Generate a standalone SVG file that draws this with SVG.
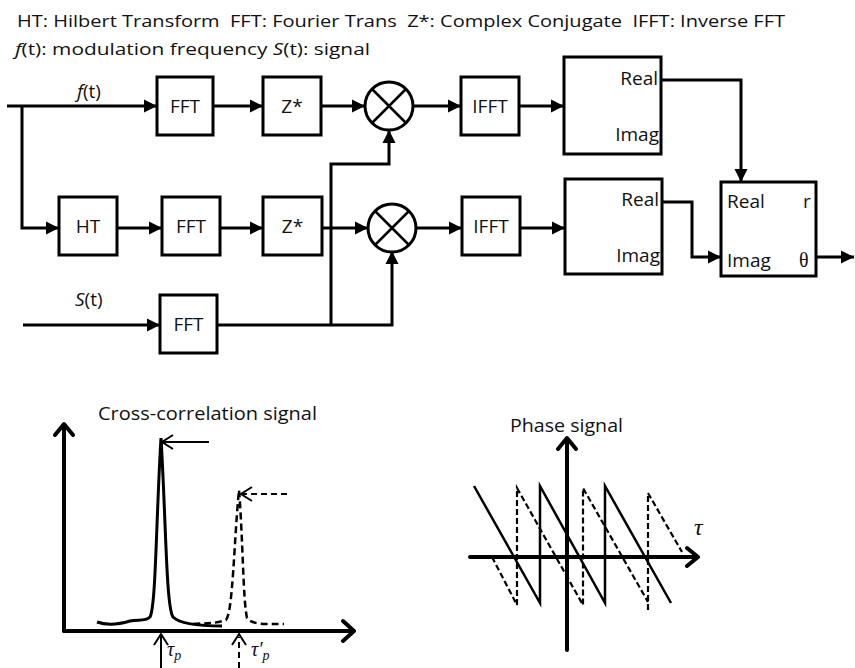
<svg xmlns="http://www.w3.org/2000/svg" width="855" height="668" viewBox="0 0 855 668">
<defs>
<marker id="arr" markerUnits="userSpaceOnUse" markerWidth="14" markerHeight="14" refX="13" refY="7" orient="auto">
<path d="M0,0.5 L13,7 L0,13.5 z" fill="#000"/>
</marker>
<style>
.t{font-family:"Open Sans","Liberation Sans",sans-serif;fill:#111}
.box{fill:#fff;stroke:#000;stroke-width:3}
.lbl{font-family:"Open Sans","Liberation Sans",sans-serif;font-size:19px;fill:#111;text-anchor:middle}
.side{font-family:"Open Sans","Liberation Sans",sans-serif;font-size:19px;fill:#111}
.c{fill:none;stroke:#000;stroke-width:3;marker-end:url(#arr)}
.ax{fill:none;stroke:#000;stroke-width:4;stroke-linecap:round;stroke-linejoin:round}
.thin{fill:none;stroke:#000;stroke-width:2}
.dash{fill:none;stroke:#000;stroke-width:2.5;stroke-dasharray:7,4}
.sol{fill:none;stroke:#000;stroke-width:3}
.ser{font-family:"Liberation Serif","DejaVu Serif",serif;font-style:italic;fill:#111}
</style>
</defs>
<rect width="855" height="668" fill="#fff"/>

<g id="legend">
<text class="t" x="17" y="27" font-size="16.5" xml:space="preserve" textLength="768" lengthAdjust="spacingAndGlyphs">HT: Hilbert Transform  FFT: Fourier Trans  Z*: Complex Conjugate  IFFT: Inverse FFT</text>
<text class="t" x="15" y="55" font-size="16.5" textLength="355" lengthAdjust="spacingAndGlyphs"><tspan font-style="italic">f</tspan>(t): modulation frequency <tspan font-style="italic">S</tspan>(t): signal</text>
</g>

<g id="connectors">
<path class="c" d="M7,106 H157"/>
<path class="c" d="M22,106 V228 H59"/>
<path class="c" d="M213,106 H263"/>
<path class="c" d="M321,106 H365"/>
<path class="c" d="M413,106 H461"/>
<path class="c" d="M519,106 H564"/>
<path class="c" d="M117,228 H162"/>
<path class="c" d="M220,228 H263"/>
<path class="c" d="M322,228 H368"/>
<path class="c" d="M416,228 H462"/>
<path class="c" d="M520,228 H565"/>
<path class="c" d="M23,325 H160"/>
<path class="c" d="M217,325 H392 V251"/>
<path class="c" d="M331,325 V164 H389 V130"/>
<path class="c" d="M661,80 H741 V182"/>
<path class="c" d="M662,202 H692 V257 H721"/>
<path class="c" d="M816,257 H854"/>
</g>

<g id="label-ft"><text class="side" x="77" y="98"><tspan font-style="italic">f</tspan>(t)</text></g>
<g id="label-st"><text class="side" x="75" y="306"><tspan font-style="italic">S</tspan>(t)</text></g>

<g id="fft1"><rect class="box" x="157" y="77" width="56" height="58"/><text class="lbl" x="185" y="113">FFT</text></g>
<g id="zconj1"><rect class="box" x="263" y="77" width="58" height="58"/><text class="lbl" x="292" y="113">Z*</text></g>
<g id="mult1"><circle cx="389" cy="106" r="24" fill="#fff" stroke="#000" stroke-width="3"/><path d="M372,89 L406,123 M406,89 L372,123" stroke="#000" stroke-width="2.5"/></g>
<g id="ifft1"><rect class="box" x="461" y="77" width="58" height="58"/><text class="lbl" x="490" y="113">IFFT</text></g>
<g id="ri1"><rect class="box" x="564" y="57" width="97" height="97"/><text class="side" x="658" y="85" text-anchor="end">Real</text><text class="side" x="659" y="141" text-anchor="end">Imag</text></g>

<g id="ht"><rect class="box" x="59" y="197" width="58" height="58"/><text class="lbl" x="88" y="233">HT</text></g>
<g id="fft2"><rect class="box" x="162" y="197" width="58" height="58"/><text class="lbl" x="191" y="233">FFT</text></g>
<g id="zconj2"><rect class="box" x="263" y="197" width="59" height="58"/><text class="lbl" x="292.5" y="233">Z*</text></g>
<g id="mult2"><circle cx="392" cy="228" r="24" fill="#fff" stroke="#000" stroke-width="3"/><path d="M375,211 L409,245 M409,211 L375,245" stroke="#000" stroke-width="2.5"/></g>
<g id="ifft2"><rect class="box" x="462" y="197" width="58" height="58"/><text class="lbl" x="491" y="233">IFFT</text></g>
<g id="ri2"><rect class="box" x="565" y="179" width="97" height="95"/><text class="side" x="659" y="206" text-anchor="end">Real</text><text class="side" x="660" y="262" text-anchor="end">Imag</text></g>

<g id="fft3"><rect class="box" x="160" y="295" width="57" height="58"/><text class="lbl" x="188.5" y="331">FFT</text></g>

<g id="polar"><rect class="box" x="721" y="182" width="95" height="94"/>
<text class="side" x="727" y="208">Real</text><text class="side" x="803" y="208">r</text>
<text class="side" x="727" y="267">Imag</text>
<text x="799" y="267" font-family="Liberation Serif,DejaVu Serif,serif" font-size="20" fill="#111">θ</text></g>

<g id="cross-correlation">
<text class="t" x="98" y="420" font-size="18" textLength="219" lengthAdjust="spacingAndGlyphs">Cross-correlation signal</text>
<path class="ax" d="M64,631 V425 M55,435 L64,424 L73,435"/>
<path class="ax" d="M64,631 H353 M343,621 L354,631 L343,641"/>
<path class="sol" d="M97,622 C108,626 120,624 130,621 C138,619 145,622 150,617 C156,606 156,520 161,438 C166,520 166,606 173,617 C180,624 200,626 222,626"/>
<path class="dash" d="M193,624 C205,623 215,624 226,620 C233,612 234,540 239,490 C243,540 243,600 247,618 C252,625 265,624 284,624"/>
<path class="thin" d="M209,442 H163 M173,435 L162,442 L173,449"/>
<path class="thin" d="M287,494 H243" stroke-dasharray="6,4"/>
<path class="thin" d="M252,487 L241,494 L252,501"/>
<path class="thin" d="M161,668 V635 M154,645 L161,634 L168,645"/>
<path class="thin" d="M239,668 V637" stroke-dasharray="6,4"/>
<path class="thin" d="M232,645 L239,634 L246,645"/>
<text class="ser" x="167" y="656" font-size="20">τ<tspan font-size="14" dy="4">p</tspan></text>
<text class="ser" x="251" y="656" font-size="20">τ′<tspan font-size="14" dy="4">p</tspan></text>
</g>

<g id="phase">
<text class="t" x="510" y="432" font-size="18" textLength="113" lengthAdjust="spacingAndGlyphs">Phase signal</text>
<path class="ax" d="M567,650 V439 M558,449 L567,438 L576,449"/>
<path class="ax" d="M470,557 H697 M687,548 L698,557 L687,566"/>
<path d="M474,486 L540,603 V486 L605,603 V486 L671,603" fill="none" stroke="#000" stroke-width="2.5" stroke-linejoin="miter"/>
<path d="M492,557 L517,605 V488 L583,605 V488 L648,602 M648,610 V493 L682,552" fill="none" stroke="#000" stroke-width="2.2" stroke-dasharray="6,3"/>
<text class="ser" x="694" y="535" font-size="24">τ</text>
</g>
</svg>
